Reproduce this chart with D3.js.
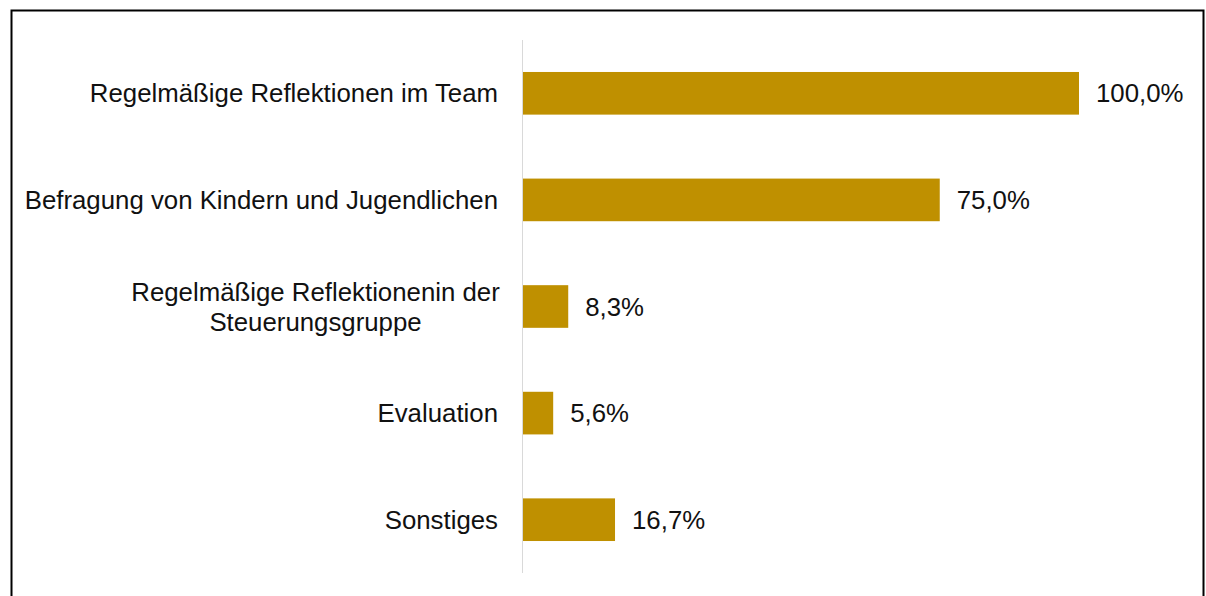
<!DOCTYPE html>
<html>
<head>
<meta charset="utf-8">
<script src="https://cdn.jsdelivr.net/npm/d3@7"></script>
<style>
  body { margin: 0; background: #fff; }
  svg { display: block; font-family: Arial, "Liberation Sans", sans-serif; }
</style>
</head>
<body>
<div id="chart"></div>
<script>
const categories = [
    ["Regelmäßige Reflektionen im Team"],
    ["Befragung von Kindern und Jugendlichen"],
    ["Regelmäßige Reflektionenin der", "Steuerungsgruppe"],
    ["Evaluation"],
    ["Sonstiges"]
];
const values = [100.0, 75.0, 8.3, 5.6, 16.7];
const valueLabels = ["100,0%", "75,0%", "8,3%", "5,6%", "16,7%"];

const width = 1206, height = 596;
const margin = {top: 40, left: 522, right: 127, bottom: 23};
const fontSize = "25.8px";

const svg = d3.select("#chart")
    .append("svg")
    .attr("width", width)
    .attr("height", height);

// Frame
svg.append("path")
    .attr("d", `M11.5,${height} V10.5 H1203.5 V${height}`)
    .attr("fill", "none")
    .attr("stroke", "#000")
    .attr("stroke-width", 2);

const x = d3.scaleLinear()
    .domain([0, 100])
    .range([margin.left, width - margin.right]);

const y = d3.scaleBand()
    .domain(d3.range(values.length))
    .range([margin.top, height - margin.bottom])
    .paddingInner(0.6)
    .paddingOuter(0.3);

// Bars
svg.selectAll("rect.bar")
    .data(values)
    .enter()
    .append("rect")
    .attr("class", "bar")
    .attr("x", x(0))
    .attr("y", (d, i) => y(i))
    .attr("width", d => x(d) - x(0))
    .attr("height", y.bandwidth())
    .attr("fill", "#BF9000");

// Axis line
svg.append("line")
    .attr("x1", x(0) + 0.5).attr("x2", x(0) + 0.5)
    .attr("y1", margin.top).attr("y2", height - margin.bottom)
    .attr("stroke", "#d9d9d9")
    .attr("stroke-width", 1);

// Category labels
const lineH = 30;
svg.selectAll("text.cat")
    .data(categories)
    .enter()
    .append("text")
    .attr("class", "cat")
    .attr("font-size", fontSize)
    .attr("fill", "#111")
    .each(function(lines, i) {
        const cy = y(i) + y.bandwidth() / 2;
        const t = d3.select(this);
        const y0 = cy - (lines.length - 1) * lineH / 2;
        if (lines.length === 1) {
            t.attr("text-anchor", "end")
                .attr("x", x(0) - 24)
                .attr("y", cy)
                .attr("dy", "0.35em")
                .text(lines[0]);
        } else {
            // multi-line block, right-aligned, lines centered in it
            t.attr("text-anchor", "middle");
            lines.forEach((l, k) => {
                t.append("tspan")
                    .attr("x", 0)
                    .attr("y", y0 + k * lineH)
                    .attr("dy", "0.35em")
                    .text(l);
            });
            const w = this.getBBox().width;
            t.selectAll("tspan").attr("x", x(0) - 22 - w / 2);
        }
    });

// Value labels
svg.selectAll("text.val")
    .data(values)
    .enter()
    .append("text")
    .attr("class", "val")
    .attr("x", d => x(d) + 17)
    .attr("y", (d, i) => y(i) + y.bandwidth() / 2)
    .attr("dy", "0.35em")
    .attr("font-size", fontSize)
    .attr("fill", "#111")
    .text((d, i) => valueLabels[i]);
</script>
</body>
</html>
